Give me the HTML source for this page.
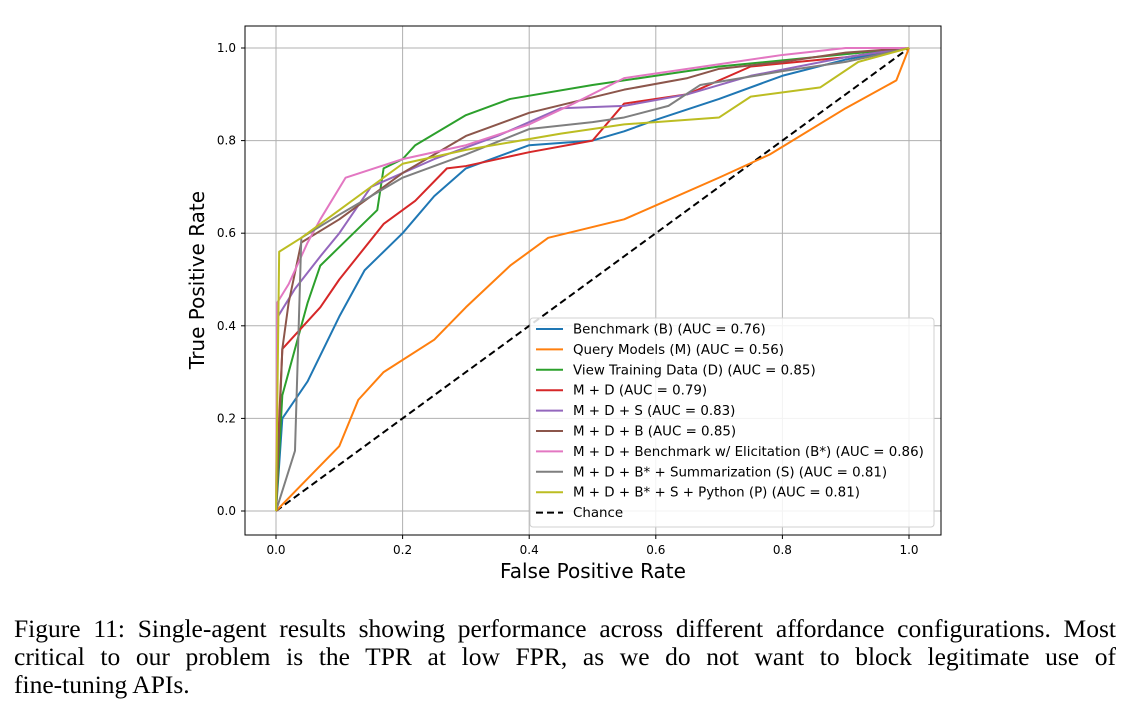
<!DOCTYPE html>
<html><head><meta charset="utf-8"><style>
body{margin:0;background:#fff;width:1129px;height:708px;overflow:hidden}
svg text{font-family:"DejaVu Sans","Liberation Sans",sans-serif}
.cap{position:absolute;left:14px;top:615px;width:1102px;font-family:"Liberation Serif",serif;font-size:25.5px;line-height:28px;color:#000}
.cap .j{text-align:justify;text-align-last:justify;white-space:nowrap}
</style></head><body>
<svg id="chart" width="1129" height="610" style="position:absolute;left:0;top:0"></svg>
<div class="cap"><div class="j">Figure 11: Single-agent results showing performance across different affordance configurations. Most</div><div class="j">critical to our problem is the TPR at low FPR, as we do not want to block legitimate use of</div><div>fine-tuning APIs.</div></div>
<script>
const labels=["Benchmark (B) (AUC = 0.76)","Query Models (M) (AUC = 0.56)","View Training Data (D) (AUC = 0.85)","M + D (AUC = 0.79)","M + D + S (AUC = 0.83)","M + D + B (AUC = 0.85)","M + D + Benchmark w/ Elicitation (B*) (AUC = 0.86)","M + D + B* + Summarization (S) (AUC = 0.81)","M + D + B* + S + Python (P) (AUC = 0.81)"];
const colors=["#1f77b4","#ff7f0e","#2ca02c","#d62728","#9467bd","#8c564b","#e377c2","#7f7f7f","#bcbd22"];
const fprB=[0,0.01,0.05,0.1,0.14,0.2,0.25,0.3,0.4,0.5,0.55,0.6,0.7,0.8,0.9,1];
const tprB=[0,0.2,0.28,0.42,0.52,0.6,0.68,0.74,0.79,0.8,0.82,0.845,0.89,0.94,0.975,1];
const fprM=[0,0.05,0.1,0.13,0.17,0.25,0.3,0.37,0.43,0.55,0.6,0.7,0.78,0.9,0.98,1];
const tprM=[0,0.07,0.14,0.24,0.3,0.37,0.44,0.53,0.59,0.63,0.66,0.72,0.77,0.87,0.93,1];
const fprD=[0,0.01,0.05,0.07,0.1,0.16,0.17,0.2,0.22,0.3,0.37,0.5,0.6,0.7,0.85,1];
const tprD=[0,0.25,0.45,0.53,0.57,0.65,0.74,0.76,0.79,0.855,0.89,0.92,0.94,0.96,0.98,1];
const fprMD=[0,0.005,0.01,0.03,0.07,0.1,0.17,0.22,0.27,0.3,0.4,0.5,0.55,0.65,0.75,0.9,1];
const tprMD=[0,0.2,0.35,0.38,0.44,0.5,0.62,0.67,0.74,0.745,0.775,0.8,0.88,0.9,0.96,0.98,1];
const fprMDS=[0,0.003,0.03,0.07,0.1,0.15,0.25,0.35,0.45,0.55,0.65,0.75,0.9,1];
const tprMDS=[0,0.42,0.48,0.55,0.6,0.7,0.76,0.81,0.87,0.875,0.9,0.94,0.98,1];
const fprMDB=[0,0.01,0.02,0.04,0.1,0.2,0.3,0.4,0.55,0.65,0.7,0.8,0.9,1];
const tprMDB=[0,0.35,0.45,0.58,0.63,0.73,0.81,0.86,0.91,0.935,0.955,0.97,0.99,1];
const fprE=[0,0.002,0.02,0.05,0.07,0.11,0.2,0.3,0.4,0.47,0.55,0.7,0.8,0.9,1];
const tprE=[0,0.45,0.49,0.58,0.63,0.72,0.76,0.79,0.835,0.88,0.935,0.965,0.985,1,1];
const fprS=[0,0.03,0.04,0.1,0.2,0.3,0.4,0.5,0.55,0.62,0.67,0.8,0.9,1];
const tprS=[0,0.13,0.59,0.64,0.72,0.77,0.825,0.84,0.85,0.875,0.92,0.95,0.97,1];
const fprP=[0,0.005,0.04,0.1,0.2,0.3,0.45,0.55,0.7,0.75,0.86,0.92,1];
const tprP=[0,0.56,0.59,0.65,0.75,0.78,0.815,0.835,0.85,0.895,0.915,0.97,1];
const fprs=[fprB,fprM,fprD,fprMD,fprMDS,fprMDB,fprE,fprS,fprP];
const tprs=[tprB,tprM,tprD,tprMD,tprMDS,tprMDB,tprE,tprS,tprP];
const ticks=[0,0.2,0.4,0.6,0.8,1.0];
const NS="http://www.w3.org/2000/svg";
const svg=document.getElementById('chart');
const X=v=>276+633*v, Y=v=>511-463*v;
function mk(t,a,p){const e=document.createElementNS(NS,t);for(const k in a)e.setAttribute(k,a[k]);(p||svg).appendChild(e);return e;}
ticks.forEach(t=>{
 let g=mk('line',{x1:X(t),x2:X(t),y1:26,y2:535,stroke:'#b0b0b0','stroke-width':1});
 
 g=mk('line',{x1:245,x2:941,y1:Y(t),y2:Y(t),stroke:'#b0b0b0','stroke-width':1});
 
 mk('line',{x1:X(t),x2:X(t),y1:535,y2:539,stroke:'#000'});
 mk('line',{x1:241,x2:245,y1:Y(t),y2:Y(t),stroke:'#000'});
 let tx=mk('text',{x:X(t),y:554,'font-size':12,'text-anchor':'middle'});tx.textContent=t.toFixed(1);
 
 tx=mk('text',{x:236,y:Y(t)+4,'font-size':12,'text-anchor':'end'});tx.textContent=t.toFixed(1);
 
});
let ch=mk('line',{x1:X(0),y1:Y(0),x2:X(1),y2:Y(1),stroke:'#000','stroke-width':2,'stroke-dasharray':'7,4'});

fprs.forEach((f,i)=>{
 const p=mk('polyline',{points:f.map((v,j)=>X(v)+','+Y(tprs[i][j])).join(' '),fill:'none',stroke:colors[i],'stroke-width':2,'stroke-linejoin':'round'});
 
});
mk('rect',{x:245,y:26,width:696,height:509,fill:'none',stroke:'#000','stroke-width':1});
let t=mk('text',{x:593,y:578,'font-size':20,'text-anchor':'middle'});t.textContent='False Positive Rate';

t=mk('text',{x:0,y:0,'font-size':20,'text-anchor':'middle',transform:'translate(204,280) rotate(-90)'});t.textContent='True Positive Rate';

const lg=mk('g',{});

mk('rect',{x:530,y:318,width:404,height:209,rx:3,fill:'rgba(255,255,255,0.85)',stroke:'#d0d0d0'},lg);
const all=labels.concat(['Chance']);
all.forEach((l,i)=>{
 const y=329+i*20.4;
 mk('line',{x1:536,x2:563,y1:y,y2:y,stroke:i<9?colors[i]:'#000','stroke-width':2,'stroke-dasharray':i<9?'none':'7,4'},lg);
 const e=mk('text',{x:573,y:y+4.5,'font-size':13.4},lg);e.textContent=l;
 
});
</script>
</body></html>
